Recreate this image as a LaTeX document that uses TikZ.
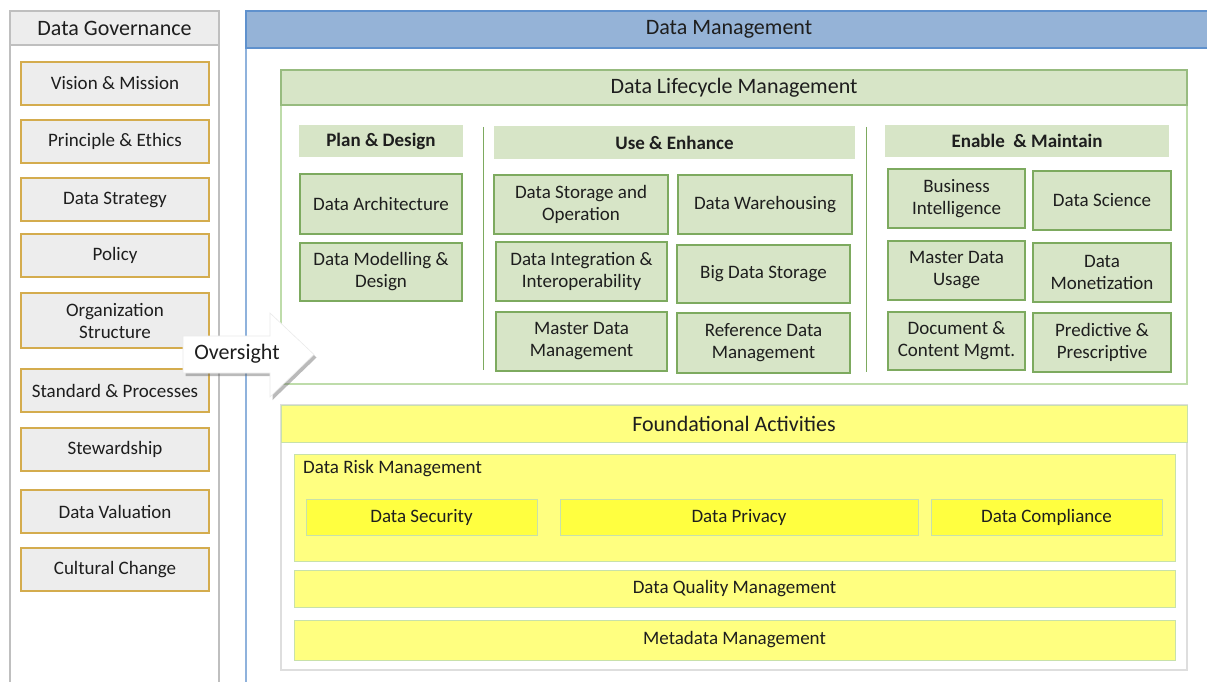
\documentclass[tikz,border=0pt]{standalone}
\usepackage{fontspec}
\setmainfont{Carlito}
\usetikzlibrary{shadows}

\definecolor{govfill}{RGB}{237,237,237}
\definecolor{govline}{RGB}{191,191,191}
\definecolor{gold}{RGB}{212,172,78}
\definecolor{dmblue}{RGB}{149,179,215}
\definecolor{dmline}{RGB}{95,145,205}
\definecolor{lcfill}{RGB}{215,229,199}
\definecolor{lcline}{RGB}{125,170,95}
\definecolor{lcpale}{RGB}{190,220,170}
\definecolor{yelfill}{RGB}{255,255,128}
\definecolor{yelhi}{RGB}{255,255,64}
\definecolor{yelline}{RGB}{200,225,170}
\definecolor{txt}{RGB}{30,30,30}

\begin{document}
\begin{tikzpicture}[x=1pt, y=-1pt,
    every node/.style={text=txt, align=center, inner sep=0pt},
    title/.style={font=\fontsize{22}{26}\selectfont},
    sect/.style={fill=lcfill, font=\bfseries\fontsize{19}{22}\selectfont},
    gov/.style={draw=gold, line width=1.4pt, fill=govfill, minimum width=188pt, font=\fontsize{19}{22}\selectfont},
    act/.style={draw=lcline, line width=1.2pt, fill=lcfill, font=\fontsize{19}{22}\selectfont},
    found/.style={draw=yelline, line width=1pt, fill=yelfill, font=\fontsize{19}{22}\selectfont},
    risk/.style={found, fill=yelhi}]
    \useasboundingbox (0,0) rectangle (1207,682);
    \fill[white] (0,0) rectangle (1207,682);

    % governance column
    \draw[govline, line width=1.2pt] (10,11) rectangle (219,700);
    \node[title, draw=govline, line width=1.2pt, fill=govfill, minimum width=209pt, minimum height=34pt] (govhead) at (114.5,28) {Data Governance};
    \foreach \y/\h/\txt [count=\i] in {83.5/43/Vision \& Mission, 141.5/43/Principle \& Ethics,
        199.5/43/Data Strategy, 255.5/43/Policy, 320.5/55/Organization\\Structure,
        390.5/43/Standard \& Processes, 449.5/43/Stewardship, 511.5/43/Data Valuation,
        569.5/43/Cultural Change}
        \node[gov, minimum height=\h pt] (gov\i) at (115,\y) {\txt};

    % management frame
    \draw[dmline!70, line width=1.2pt] (246,11) rectangle (1230,700);
    \node[title, draw=dmline, line width=1.2pt, fill=dmblue, minimum width=966pt, minimum height=37pt] (dmhead) at (729,29.5) {Data Management};

    % lifecycle block
    \draw[lcpale, line width=1.2pt] (281,70) rectangle (1187,384);
    \node[title, draw=lcline!80, line width=1.2pt, fill=lcfill, minimum width=906pt, minimum height=35pt] (lchead) at (734,87.5) {Data Lifecycle Management};
    \node[sect, minimum width=164pt, minimum height=32pt] (plan) at (381,141) {Plan \& Design};
    \node[sect, minimum width=361pt, minimum height=33pt] (use) at (674.5,142.5) {Use \& Enhance};
    \node[sect, minimum width=284pt, minimum height=32pt] (enable) at (1027,141) {Enable \ \& Maintain};
    \draw[lcline, line width=1pt] (483,127) -- (483,370);
    \draw[lcline, line width=1pt] (866,127) -- (866,372);

    \node[act, minimum width=162pt, minimum height=60pt] (arch) at (381,204) {Data Architecture};
    \node[act, minimum width=162pt, minimum height=58pt] (model) at (381,272) {Data Modelling \&\\Design};

    \node[act, minimum width=174pt, minimum height=59pt] (store) at (581,204.5) {Data Storage and\\Operation};
    \node[act, minimum width=174pt, minimum height=59pt] (ware) at (765,204.5) {Data Warehousing};
    \node[act, minimum width=171pt, minimum height=59pt] (integ) at (581.5,271.5) {Data Integration \&\\Interoperability};
    \node[act, minimum width=173pt, minimum height=58pt] (bigdata) at (763.5,274) {Big Data Storage};
    \node[act, minimum width=171pt, minimum height=59pt] (mdm) at (581.5,341.5) {Master Data\\Management};
    \node[act, minimum width=173pt, minimum height=60pt] (refdata) at (763.5,343) {Reference Data\\Management};

    \node[act, minimum width=137pt, minimum height=59pt] (bi) at (956.5,198.5) {Business\\Intelligence};
    \node[act, minimum width=138pt, minimum height=59pt] (sci) at (1102,200.5) {Data Science};
    \node[act, minimum width=137pt, minimum height=59pt] (mdu) at (956.5,270.5) {Master Data\\Usage};
    \node[act, minimum width=138pt, minimum height=59pt] (monet) at (1102,272.5) {Data\\Monetization};
    \node[act, minimum width=137pt, minimum height=58pt] (doc) at (956.5,341) {Document \&\\Content Mgmt.};
    \node[act, minimum width=138pt, minimum height=59pt] (pred) at (1102,342.5) {Predictive \&\\Prescriptive};

    % foundational block
    \draw[black!13, line width=1.2pt] (281,405) rectangle (1187,670);
    \node[found, title, minimum width=906pt, minimum height=37pt] (fahead) at (734,423.5) {Foundational Activities};
    \node[found, minimum width=881pt, minimum height=107pt] (riskbox) at (734.5,507.5) {};
    \node[anchor=west, font=\fontsize{19}{22}\selectfont] (risklbl) at (303,469) {Data Risk Management};
    \node[risk, minimum width=231pt, minimum height=36pt] (sec) at (421.5,517) {Data Security};
    \node[risk, minimum width=358pt, minimum height=36pt] (priv) at (739,517) {Data Privacy};
    \node[risk, minimum width=231pt, minimum height=36pt] (comp) at (1046.5,517) {Data Compliance};
    \node[found, minimum width=881pt, minimum height=37pt] (dqm) at (734.5,588.5) {Data Quality Management};
    \node[found, minimum width=881pt, minimum height=40pt] (meta) at (734.5,640) {Metadata Management};

    % oversight arrow
    \fill[white, draw=black!8, line width=0.6pt,
          drop shadow={shadow xshift=2.5pt, shadow yshift=-3pt, opacity=0.45, fill=black!60}]
        (183,336) -- (270,336) -- (270,313) -- (314,354.5) -- (270,397) -- (270,373) -- (183,373) -- cycle;
    \node[title] (oversight) at (237,354) {Oversight};
\end{tikzpicture}
\end{document}
